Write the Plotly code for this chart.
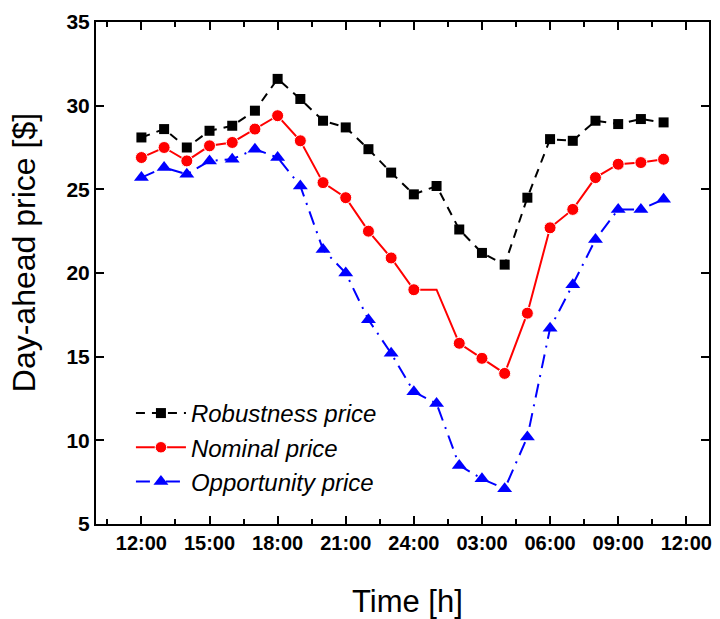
import plotly.graph_objects as go

hours = [0, 1, 2, 3, 4, 5, 6, 7, 8, 9, 10, 11, 12, 13, 14, 15, 16, 17, 18, 19, 20, 21, 22, 23]
tick_vals = [0, 3, 6, 9, 12, 15, 18, 21, 24]
tick_text = ["12:00", "15:00", "18:00", "21:00", "24:00", "03:00", "06:00", "09:00", "12:00"]

robust = [28.1, 28.6, 27.5, 28.5, 28.8, 29.7, 31.6, 30.4, 29.1, 28.7, 27.4, 26.0,
          24.7, 25.2, 22.6, 21.2, 20.5, 24.5, 28.0, 27.9, 29.1, 28.9, 29.2, 29.0]
nominal = [26.9, 27.5, 26.7, 27.6, 27.8, 28.6, 29.4, 27.9, 25.4, 24.5, 22.5, 20.9,
           19.0, 19.0, 15.8, 14.9, 14.0, 17.6, 22.7, 23.8, 25.7, 26.5, 26.6, 26.8]
opportunity = [25.7, 26.3, 25.9, 26.7, 26.8, 27.4, 26.9, 25.2, 21.4, 20.0, 17.2, 15.2,
               12.9, 12.2, 8.5, 7.7, 7.1, 10.2, 16.7, 19.3, 22.0, 23.8, 23.8, 24.4]

x_title = "Time [h]"
y_title = "Day-ahead price [$]"

FONT = "Liberation Sans, Arial, sans-serif"

nominal_sizes = [12] * len(hours)
nominal_sizes[13] = 0

fig = go.Figure()
fig.add_trace(go.Scatter(
    x=hours, y=robust, mode="lines+markers", name="<i>Robustness price</i>",
    line=dict(color="black", width=2, dash="9px,7px"),
    marker=dict(symbol="square", size=10, color="black", opacity=1)))
fig.add_trace(go.Scatter(
    x=hours, y=nominal, mode="lines+markers", name="<i>Nominal price</i>",
    line=dict(color="#ff0000", width=2),
    marker=dict(symbol="circle", size=nominal_sizes, color="#ff0000", opacity=1)))
fig.add_trace(go.Scatter(
    x=hours, y=opportunity, mode="lines+markers", name="<i>Opportunity price</i>",
    line=dict(color="#0000ff", width=2, dash="14px,7px,2px,7px"),
    marker=dict(symbol="triangle-up", size=13, color="#0000ff", opacity=1)))

fig.update_layout(
    width=720, height=619,
    margin=dict(l=96, r=8, t=22, b=95),
    paper_bgcolor="white", plot_bgcolor="white",
    font=dict(family=FONT, color="black"),
    showlegend=True,
    legend=dict(x=0.057, y=0.265, xanchor="left", yanchor="top",
                bgcolor="rgba(0,0,0,0)", font=dict(size=24, family=FONT),
                itemwidth=50, tracegroupgap=0),
    annotations=[
        dict(text=y_title, xref="paper", yref="paper", x=-0.117, y=0.54,
             xanchor="center", yanchor="middle", textangle=-90, showarrow=False,
             font=dict(size=32, family=FONT)),
        dict(text=x_title, xref="paper", yref="paper", x=0.508, y=-0.155,
             xanchor="center", yanchor="middle", showarrow=False,
             font=dict(size=31, family=FONT)),
    ],
)
fig.update_xaxes(
    range=[-2, 25], tickmode="array", tickvals=tick_vals, ticktext=tick_text,
    ticks="inside", ticklen=8, tickwidth=2, tickcolor="black",
    showline=True, linewidth=2, linecolor="black", mirror="allticks",
    showgrid=False, zeroline=False,
    tickfont=dict(size=20, family=FONT, weight="bold"),
    minor=dict(ticks="inside", ticklen=5, tickwidth=1.5, tickcolor="black",
               tickmode="linear", tick0=-1.5, dtick=1.5, showgrid=False),
)
fig.update_yaxes(
    range=[5, 35], tickmode="linear", tick0=5, dtick=5,
    ticks="inside", ticklen=8, tickwidth=2, tickcolor="black",
    showline=True, linewidth=2, linecolor="black", mirror="allticks",
    showgrid=False, zeroline=False,
    tickfont=dict(size=21, family=FONT, weight="bold"),
)

fig.write_html("out.html")
